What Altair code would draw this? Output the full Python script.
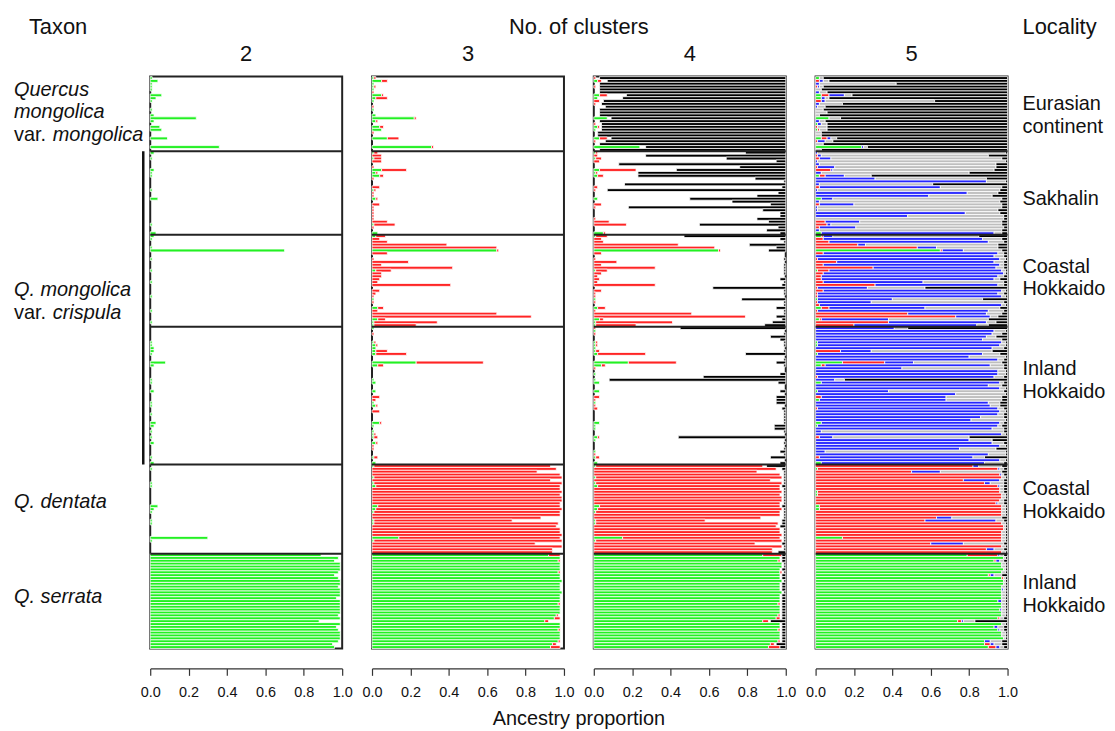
import altair as alt
import pandas as pd

FONT = "Liberation Sans"

# ---- groups (top to bottom) ----
GROUP_SIZES = [26, 29, 32, 48, 31, 33]   # Eurasia, Sakhalin, Coastal, Inland (crispula), dentata, serrata
N = sum(GROUP_SIZES)

# ---- ancestry proportions (percent) ----
K2_GREEN = (
    [1,4,1,1,1,0,6,3,1,0, 0,1,0,2,24,2,0,5,6,0, 0,9,0,0,36,0]
    + [2,0,1,0,0,0,2,1,1,0, 0,0,0,1,0,0,4,0,0,0, 0,0,0,0,0,1,0,0,3]
    + [2,1,0,0,1,70,0,0,1,0, 0,0,1,0,0,0,1,0,0,0, 0,1,0,0,0,0,1,0,0,0, 1,0]
    + [0,0,0,0,0,1,1,2,2,1, 0,0,8,2,0,0,0,0,1,1, 0,0,2,0,0,0,1,1,0,0, 1,0,0,3,2,0,1,0,1,0, 2,0,0,0,0,1,0,2]
    + [0,1,0,0,0,0,1,1,0,0, 0,0,0,0,4,2,1,0,0,1, 1,0,0,0,0,30,1,0,0,0, 0]
    + [89,98,96,99,99,99,98,96,98,99, 99,98,99,99,99,97,99,99,99,99, 99,98,99,88,99,97,98,99,99,99, 98,95,96]
)

K3_GREEN = (
    [1,5,1,1,1,0,5,2,1,0, 0,1,0,2,22,2,0,4,5,0, 0,8,0,0,31,0]
    + [1,0,1,0,0,0,5,2,4,0, 0,0,0,1,0,0,2,0,0,0, 0,0,0,0,0,1,0,0,3]
    + [2,0,0,0,0,65,0,0,0,0, 0,0,2,0,0,0,0,0,0,0, 0,0,1,0,0,3,0,0,0,3, 1,1]
    + [1,0,0,0,0,1,2,2,2,2, 0,0,23,3,0,0,0,0,1,2, 0,0,2,0,0,0,1,2,0,0, 0,0,0,4,1,0,1,1,1,0, 2,0,0,0,0,1,0,2]
    + [1,0,0,0,1,0,1,2,0,0, 0,0,0,0,3,2,1,0,0,1, 1,0,0,0,0,14,1,0,0,0, 0]
    + [92,98,97,98,98,98,97,98,98,99, 98,98,98,99,98,98,98,97,98,98, 98,96,95,90,98,98,97,98,98,98, 97,94,93]
)
K3_RED = (
    [1,3,0,1,0,1,1,6,0,0, 1,0,0,0,1,1,0,2,0,1, 0,6,0,0,1,0]
    + [2,5,4,5,0,1,13,1,2,1, 0,0,4,1,1,1,1,0,4,1, 1,1,1,1,8,11,1,0,0]
    + [5,4,8,39,65,1,8,0,1,19, 5,42,8,5,5,4,3,41,0,4, 2,1,0,1,0,3,3,65,83,4, 33,22]
    + [0,0,1,0,0,1,1,0,6,16, 0,0,35,3,0,0,0,0,0,0, 0,0,0,0,4,2,0,1,0,4, 0,0,0,1,0,0,0,1,2,0, 1,1,1,0,0,2,0,0]
    + [92,96,86,98,98,93,98,96,98,99, 98,99,99,98,95,97,97,98,88,72, 96,96,98,98,99,84,98,85,99,94, 94]
    + [6,0,1,0,0,0,1,0,0,0, 0,0,0,0,0,0,0,1,0,0, 0,1,3,2,0,0,1,0,0,0, 1,2,5]
)

K4_GREEN = (
    [0,2,0,0,0,0,3,2,0,0, 0,0,0,0,7,0,0,2,1,0, 0,3,0,0,24,0]
    + [1,0,1,0,0,0,3,1,2,0, 0,0,0,0,0,0,2,0,0,0, 0,0,0,0,0,0,0,0,5]
    + [1,0,0,0,0,65,0,0,0,0, 0,0,1,0,0,0,0,0,0,0, 0,0,1,0,0,2,0,0,0,3, 1,1]
    + [0,1,0,0,0,1,1,1,1,2, 0,0,18,4,0,0,1,0,1,3, 0,0,3,0,0,0,1,0,0,0, 0,0,0,3,1,1,0,0,2,1, 0,0,0,1,0,1,0,2]
    + [1,0,0,0,1,0,1,2,0,0, 0,0,0,0,3,2,1,0,0,1, 1,0,0,0,0,15,1,0,0,0, 0]
    + [88,97,96,98,98,97,97,97,97,98, 97,97,97,98,97,97,97,96,97,97, 97,96,95,88,97,97,96,97,97,97, 96,92,91]
)
K4_RED = (
    [1,2,0,1,0,0,4,0,3,1, 0,0,0,0,0,0,1,1,0,0, 0,4,1,0,0,0]
    + [1,2,3,3,0,0,19,1,3,0, 0,0,2,1,0,0,0,0,4,1, 0,0,0,1,8,17,0,0,1]
    + [6,4,5,44,63,1,4,0,1,12, 4,32,6,4,2,3,2,32,0,4, 1,1,0,1,0,4,1,51,79,2, 40,21]
    + [1,0,1,0,0,1,1,0,2,25, 0,0,25,2,1,0,0,0,0,0, 0,0,0,0,3,1,0,1,2,0, 0,0,0,0,0,0,0,0,1,0, 0,0,0,0,1,2,0,0]
    + [87,95,85,97,97,92,97,95,97,98, 97,98,98,97,94,96,96,97,87,57, 95,95,97,97,98,82,97,84,98,93, 93]
    + [10,0,1,0,0,0,1,0,0,0, 0,0,0,0,0,0,0,1,0,0, 0,1,2,3,0,0,1,0,0,0, 1,2,6]
)
K4_BLACK = (
    [97,93,97,97,97,97,83,85,95,96, 94,97,97,97,91,97,96,96,96,98, 98,91,94,97,73,97]
    + [21,73,31,5,87,24,57,77,77,16, 1,84,2,93,4,15,50,28,8,82, 12,3,3,15,9,45,4,10,3]
    + [53,3,1,19,5,9,0,0,1,0, 1,1,1,1,0,3,1,2,38,1, 1,0,23,1,1,5,1,1,5,2, 7,11]
    + [55,0,1,8,3,1,1,0,1,21, 0,1,5,1,0,0,3,43,92,4, 0,0,3,0,5,5,5,0,2,1, 1,1,1,1,6,6,1,0,56,0, 1,0,1,3,1,8,0,3]
    + [10,2,1,1,1,1,1,2,1,1, 1,1,1,1,2,1,1,1,1,2, 2,3,1,1,1,1,1,2,1,1, 4]
    + [2,2,2,1,1,2,1,2,2,1, 2,2,2,1,2,2,2,2,2,2, 2,2,2,8,2,2,2,2,2,2, 2,5,3]
)

K5_GREEN = (
    [2,0,0,0,0,0,3,3,0,0, 0,0,0,0,7,0,1,0,1,0, 0,3,0,0,24,0]
    + [0,0,0,0,0,0,0,0,2,0, 0,0,0,0,0,0,3,0,0,0, 0,0,0,0,0,0,0,0,3]
    + [3,0,0,0,0,65,0,0,0,0, 0,0,1,0,0,0,0,0,0,0, 0,0,1,0,0,3,0,0,0,2, 0,0]
    + [0,0,0,0,0,1,1,0,0,1, 0,0,14,3,0,0,0,0,0,3, 0,0,1,0,0,2,0,0,0,0, 0,0,0,3,1,0,0,0,0,0, 0,0,0,0,0,0,0,3]
    + [0,1,0,0,0,0,0,0,0,1, 1,0,0,0,2,2,0,0,0,0, 0,0,0,0,0,14,0,0,0,0, 0]
    + [79,98,93,97,97,98,97,90,97,98, 98,97,97,97,97,97,95,97,97,96, 97,97,95,74,97,93,95,97,97,98, 88,88,90]
)
K5_RED = (
    [0,2,0,1,0,0,4,0,3,0, 0,0,0,0,0,0,0,1,1,0, 0,3,1,0,0,0]
    + [0,1,2,0,0,1,8,0,3,0, 0,0,2,0,0,0,0,0,2,0, 0,0,0,0,5,6,2,0,0]
    + [1,4,7,22,53,1,4,0,1,11, 4,30,6,4,3,3,4,31,1,4, 1,1,0,1,2,4,1,48,73,1, 38,20]
    + [0,0,0,0,0,0,0,0,13,0, 0,0,22,2,0,0,0,1,0,0, 0,0,0,0,3,0,0,0,1,0, 0,0,0,0,0,0,0,0,2,0, 0,0,0,0,0,2,0,0]
    + [82,94,50,96,97,77,88,95,96,95, 96,97,96,94,95,95,97,97,63,57, 97,98,98,97,97,83,97,60,97,89, 97]
    + [16,0,1,0,0,0,0,1,1,0, 0,0,0,0,0,0,0,0,0,0, 0,0,1,2,0,0,0,0,0,0, 0,3,4]
)
K5_BLUE = (
    [0,2,2,1,0,2,8,2,2,2, 1,0,0,0,0,2,2,0,0,0, 0,2,4,0,1,0]
    + [1,2,6,1,2,9,1,3,10,31, 89,2,63,1,79,59,6,2,18,1, 1,78,48,0,18,2,19,2,90]
    + [5,83,83,4,10,11,91,93,95,82, 92,64,90,94,92,90,52,64,26,93, 94,96,39,28,95,50,89,41,18,35, 51,64]
    + [41,93,92,89,87,96,95,92,16,86, 80,95,15,86,45,95,95,92,10,93, 90,96,37,73,65,66,90,91,94,96, 95,86,81,93,94,92,3,97,7,80, 92,96,75,5,90,80,96,85]
    + [3,1,15,1,0,19,3,1,0,0, 0,0,0,1,0,0,0,0,8,37, 0,0,0,0,0,0,0,17,0,4, 0]
    + [1,0,2,0,0,0,0,2,0,0, 0,0,1,0,0,0,2,0,0,1, 0,0,0,1,0,2,1,0,0,0, 3,2,2]
)
K5_BLACK = (
    [96,93,58,96,97,94,81,93,38,86, 95,96,94,98,87,95,94,94,94,97, 97,89,91,96,73,97]
    + [1,10,3,1,6,6,7,20,71,11, 1,39,3,4,5,8,3,4,3,3, 5,4,2,2,3,3,2,3,3]
    + [15,3,2,5,5,3,2,2,1,2, 2,2,1,1,2,4,2,2,43,1, 2,1,13,2,1,4,2,3,5,10, 6,10]
    + [52,1,3,6,3,1,1,2,8,4, 1,2,3,2,2,1,1,2,85,2, 3,1,2,1,3,3,4,4,2,1, 2,2,1,2,3,2,2,1,20,8, 2,1,6,1,1,12,1,2]
    + [3,2,3,2,1,2,2,2,2,2, 1,1,2,2,1,1,1,1,3,2, 1,1,1,1,1,1,1,2,1,2, 1]
    + [2,1,2,1,1,1,1,3,1,1, 1,1,1,1,1,1,1,1,1,1, 1,1,2,17,1,2,2,1,1,1, 3,3,2]
)

K_VALUES = [2, 3, 4, 5]
CLUSTER_NAMES = ["green", "red", "blue", "gray", "black"]
CLUSTER_COLORS = ["#22f022", "#ff2424", "#2626ff", "#bebebe", "#000000"]

# left (taxon) and right (locality) labels
TAXON_LABELS = [
    # (text, italic, x offset px, baseline px)  relative to first panel
    ("Quercus", True, -137, 19),
    ("mongolica", True, -137, 42),
    ("var.", False, -137, 65),
    ("mongolica", True, -98, 65),
    ("Q. mongolica", True, -137, 221),
    ("var.", False, -137, 244),
    ("crispula", True, -98, 244),
    ("Q. dentata", True, -137, 434),
    ("Q. serrata", True, -137, 529),
]
LOCALITY_LABELS = [
    ("Eurasian", 34), ("continent", 57),
    ("Sakhalin", 129),
    ("Coastal", 197), ("Hokkaido", 220),
    ("Inland", 300), ("Hokkaido", 323),
    ("Coastal", 421), ("Hokkaido", 444),
    ("Inland", 515), ("Hokkaido", 538),
]
TICKS = [0.0, 0.2, 0.4, 0.6, 0.8, 1.0]

PANEL_W, PANEL_H, GAP = 193, 575, 30

PANEL_SPEC = {
    2: [("green", K2_GREEN), ("white", None)],
    3: [("green", K3_GREEN), ("red", K3_RED), ("white", None)],
    4: [("green", K4_GREEN), ("red", K4_RED), ("white", None), ("black", K4_BLACK)],
    5: [("green", K5_GREEN), ("red", K5_RED), ("blue", K5_BLUE), ("gray", None), ("black", K5_BLACK)],
}
for k, spec in PANEL_SPEC.items():
    for name, arr in spec:
        if arr is not None:
            assert len(arr) == N, (k, name, len(arr))


def segments(k):
    recs = []
    spec = PANEL_SPEC[k]
    for i in range(N):
        known = sum(arr[i] for _, arr in spec if arr is not None)
        rest = max(0, 100 - known)
        pos = 0
        for name, arr in spec:
            v = arr[i] if arr is not None else rest
            if v > 0 and name != "white":
                recs.append({"row": i, "row_end": i + 1,
                             "x0": min(pos, 100) / 100, "x1": min(pos + v, 100) / 100,
                             "cluster": name})
            pos += v
    return pd.DataFrame(recs)


def text(t, x, y, size=20, italic=False, align="left"):
    return alt.Chart(pd.DataFrame({"t": [t]})).mark_text(
        align=align, baseline="alphabetic", font=FONT, fontSize=size,
        fontStyle="italic" if italic else "normal", color="#111111",
    ).encode(text="t:N", x=alt.value(x), y=alt.value(y))


boundaries = []
acc = 0
for s in GROUP_SIZES[:-1]:
    acc += s
    boundaries.append(acc)

yscale = alt.Scale(domain=[0, N], reverse=True, nice=False, zero=False)
xscale = alt.Scale(domain=[0, 1], nice=False, zero=False)


def panel(k):
    df = segments(k)
    bars = alt.Chart(df).mark_rect(stroke="white", strokeWidth=0.8).encode(
        x=alt.X("x0:Q", scale=xscale,
                axis=alt.Axis(values=TICKS, format=".1f", title=None, offset=20,
                              grid=False, tickSize=7, labelFontSize=14.5, labelFont=FONT,
                              labelColor="#111111", labelPadding=10, domainColor="#333333",
                              tickColor="#333333", domainWidth=1.2, tickWidth=1.2,
                              labelFlush=False)),
        x2="x1:Q",
        y=alt.Y("row:Q", scale=yscale, axis=None),
        y2="row_end:Q",
        color=alt.Color("cluster:N", scale=alt.Scale(domain=CLUSTER_NAMES, range=CLUSTER_COLORS),
                        legend=None),
    )
    seps = alt.Chart(pd.DataFrame({"b": boundaries})).mark_rule(
        color="#222222", strokeWidth=2).encode(
        y=alt.Y("b:Q", scale=yscale), x=alt.value(0), x2=alt.value(PANEL_W))
    layers = [bars, seps, text(str(k), PANEL_W / 2, -16, size=22, align="center")]
    if k == 2:
        br = pd.DataFrame({"a": [boundaries[0]], "b": [boundaries[3]]})
        layers.append(alt.Chart(br).mark_rule(color="#111111", strokeWidth=2.5).encode(
            x=alt.value(-7), y=alt.Y("a:Q", scale=yscale), y2="b:Q"))
        layers.append(text("Taxon", -122, -43, size=22))
        for t, it, x, y in TAXON_LABELS:
            layers.append(text(t, x, y, size=20, italic=it))
        mid = (4 * PANEL_W + 3 * GAP) / 2
        layers.append(text("No. of clusters", mid, -43, size=22, align="center"))
        layers.append(text("Ancestry proportion", mid, PANEL_H + 77, size=20, align="center"))
        rx = 4 * PANEL_W + 3 * GAP + 15
        layers.append(text("Locality", rx, -43, size=22))
        for t, y in LOCALITY_LABELS:
            layers.append(text(t, rx, y, size=20))
    return alt.layer(*layers).properties(width=PANEL_W, height=PANEL_H)


chart = alt.hconcat(*[panel(k) for k in K_VALUES], spacing=GAP, bounds="flush").properties(
    padding={"left": 5, "top": 5, "right": 0, "bottom": 5}
).configure_view(stroke="#222222", strokeWidth=2)

chart.save("out.html", embed_options={"renderer": "svg", "actions": False})
